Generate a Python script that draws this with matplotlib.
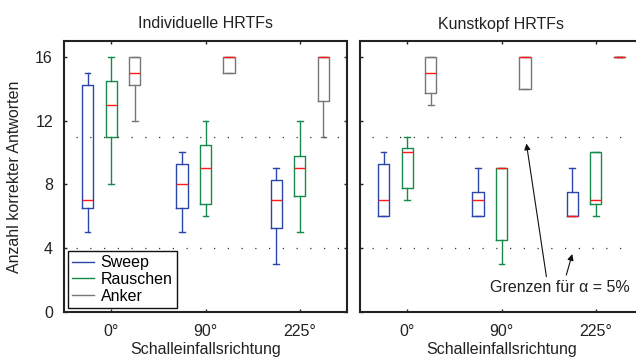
import matplotlib
matplotlib.use("Agg")
import matplotlib.pyplot as plt
from matplotlib.lines import Line2D

plt.rcParams['font.family'] = ['Liberation Sans', 'DejaVu Sans']
plt.rcParams['font.size'] = 11.5

DIRECTIONS = ["0°", "90°", "225°"]
CONDITIONS = ["Sweep", "Rauschen", "Anker"]
COLORS = {"Sweep": "#2a46a8", "Rauschen": "#168a4c", "Anker": "#777777"}
OFFSETS = {"Sweep": -0.25, "Rauschen": 0.0, "Anker": 0.25}

# box statistics per direction: (whislo, q1, med, q3, whishi)
indiv_sweep    = [(5, 6.5, 7, 14.25, 15), (5, 6.5, 8, 9.25, 10), (3, 5.25, 7, 8.25, 9)]
indiv_rauschen = [(8, 11, 13, 14.5, 16), (6, 6.75, 9, 10.5, 12), (5, 7.25, 9, 9.75, 12)]
indiv_anker    = [(12, 14.25, 15, 16, 16), (15, 15, 16, 16, 16), (11, 13.25, 16, 16, 16)]

kunst_sweep    = [(6, 6, 7, 9.25, 10), (6, 6, 7, 7.5, 9), (6, 6, 6, 7.5, 9)]
kunst_rauschen = [(7, 7.75, 10, 10.25, 11), (3, 4.5, 9, 9, 9), (6, 6.75, 7, 10, 10)]
kunst_anker    = [(13, 13.75, 15, 16, 16), (14, 14, 16, 16, 16), (16, 16, 16, 16, 16)]

LIMITS = [4, 11]  # Grenzen fuer alpha = 5%

PANELS = [
    ("Individuelle HRTFs", {"Sweep": indiv_sweep, "Rauschen": indiv_rauschen, "Anker": indiv_anker}),
    ("Kunstkopf HRTFs", {"Sweep": kunst_sweep, "Rauschen": kunst_rauschen, "Anker": kunst_anker}),
]

TXT = "#222222"


def draw_panel(ax, title, data, dot_end):
    for cond in CONDITIONS:
        stats = []
        for vals in data[cond]:
            lo, q1, med, q3, hi = vals
            stats.append(dict(whislo=lo, q1=q1, med=med, q3=q3, whishi=hi, fliers=[]))
        pos = [i + 1 + OFFSETS[cond] for i in range(len(DIRECTIONS))]
        col = COLORS[cond]
        ax.bxp(stats, positions=pos, widths=0.12, showfliers=False, manage_ticks=False,
               boxprops=dict(color=col, lw=1.0),
               whiskerprops=dict(color=col, lw=1.0),
               capprops=dict(color=col, lw=1.0),
               medianprops=dict(color="#ff1a1a", lw=1.0))

    ax.hlines(LIMITS, 0.63, dot_end, colors="#333333", linestyles=(0, (1, 10)), lw=0.9)

    ax.set_xlim(0.5, 3.5)
    ax.set_ylim(0, 17)
    ax.set_xticks([1, 2, 3])
    ax.set_xticklabels(DIRECTIONS)
    ax.set_yticks([0, 4, 8, 12, 16])
    ax.tick_params(direction="in", top=True, right=True, length=2.5, width=1.0,
                   colors=TXT, labelcolor=TXT, labelsize=11.5)
    ax.tick_params(axis="x", pad=9)
    ax.tick_params(axis="y", pad=8)
    for sp in ax.spines.values():
        sp.set_linewidth(1.5)
        sp.set_color(TXT)
    ax.set_title(title, fontsize=11.5, pad=9, color=TXT)
    ax.set_xlabel("Schalleinfallsrichtung", fontsize=11.5, color=TXT)
    ax.xaxis.set_label_coords(0.5, -0.113)


fig = plt.figure(figsize=(6.36, 3.58), dpi=100)
H = 358.0
W = 636.0
bottom = 1 - 311.7 / H
height = (311.7 - 41) / H
ax1 = fig.add_axes([64 / W, bottom, 283 / W, height])
ax2 = fig.add_axes([360 / W, bottom, 283 / W, height])

draw_panel(ax1, PANELS[0][0], PANELS[0][1], 3.43)
draw_panel(ax2, PANELS[1][0], PANELS[1][1], 3.33)

ax1.set_ylabel("Anzahl korrekter Antworten", fontsize=11.5, color=TXT)
ax1.yaxis.set_label_coords(-0.15, 0.5)
ax2.tick_params(labelleft=False)

handles = [Line2D([0], [0], color=COLORS[c], lw=1.0) for c in CONDITIONS]
leg = ax1.legend(handles, CONDITIONS, loc="lower left", bbox_to_anchor=(0.014, 0.015),
                 borderaxespad=0, fancybox=False, framealpha=1, edgecolor="#111111",
                 handlelength=1.4, handletextpad=0.4, labelspacing=0.1, borderpad=0.25,
                 fontsize=11.5)
leg.get_frame().set_linewidth(1.0)

ax2.text(2.62, 1.55, "Grenzen für α = 5%", ha="center", va="center", fontsize=11.5, color=TXT)
arrow = dict(arrowstyle="-|>", color="#111111", lw=0.8, mutation_scale=9, shrinkA=0, shrinkB=0)
ax2.annotate("", xy=(2.264, 10.56), xytext=(2.476, 2.2), arrowprops=arrow)
ax2.annotate("", xy=(2.75, 3.62), xytext=(2.687, 2.3), arrowprops=arrow)

fig.savefig("out.png", dpi=100)
